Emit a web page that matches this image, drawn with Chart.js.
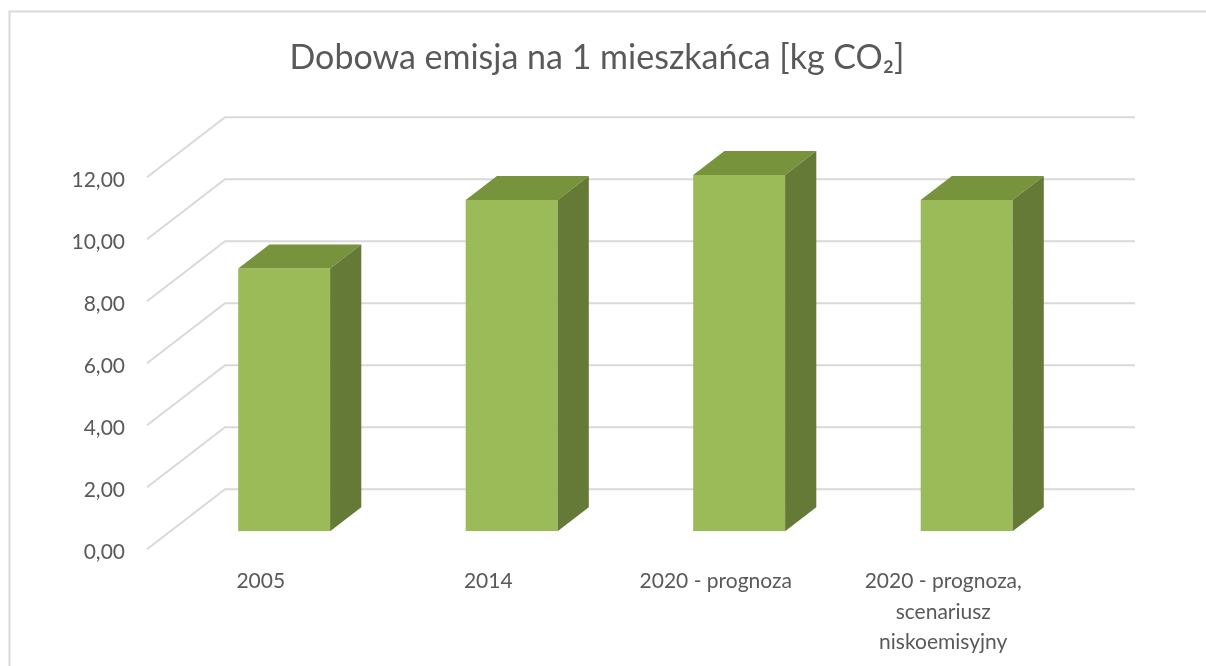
<!DOCTYPE html>
<html>
<head>
<meta charset="utf-8">
<script src="https://cdn.jsdelivr.net/npm/chart.js@4.4.0/dist/chart.umd.min.js"></script>
<style>
  html, body { margin: 0; padding: 0; background: #ffffff; }
  #wrap { width: 1206px; height: 666px; position: relative; }
</style>
</head>
<body>
<div id="wrap"><canvas id="c" width="1206" height="666"></canvas></div>
<script>
// ---- data ----
const chartTitle = 'Dobowa emisja na 1 mieszkańca [kg CO₂]';
const categories = [
  ['2005'],
  ['2014'],
  ['2020 - prognoza'],
  ['2020 - prognoza,', 'scenariusz', 'niskoemisyjny']
];
const emissionValues = [8.48, 10.69, 11.49, 10.69];
const yTickMin = 0;
const yTickMax = 12;
const yTickStep = 2;

// ---- styling / 3D geometry ----
const FLOOR_DX = 78, FLOOR_DY = 60;   // full depth of the 3D floor (px)
const BAR_FRONT = 0.3, BAR_DEPTH = 0.4; // bar position inside the depth
const GRID_COLOR = '#d9d9d9';
const TEXT_COLOR = '#595959';
const FRONT_COLOR = '#9bbb59';
const TOP_COLOR = '#77933c';
const SIDE_COLOR = '#657a37';

const threeD = {
  id: 'threeD',
  beforeDraw(chart) {
    const ctx = chart.ctx;
    ctx.save();
    ctx.strokeStyle = GRID_COLOR;
    ctx.lineWidth = 2;
    ctx.strokeRect(9.5, 11.5, 1400, 800);
    ctx.restore();
  },
  beforeDatasetsDraw(chart) {
    const ctx = chart.ctx;
    const ys = chart.scales.y;
    const { left, right } = chart.chartArea;
    const fdx = FLOOR_DX * BAR_FRONT, fdy = FLOOR_DY * BAR_FRONT;
    const bdx = FLOOR_DX * (1 - BAR_FRONT), bdy = FLOOR_DY * (1 - BAR_FRONT);
    ctx.save();
    ctx.strokeStyle = GRID_COLOR;
    ctx.lineWidth = 2;
    ctx.lineJoin = 'miter';
    ys.ticks.forEach(t => {
      const yb = ys.getPixelForValue(t.value);
      ctx.beginPath();
      ctx.moveTo(left - fdx, yb + fdy);
      ctx.lineTo(left + bdx, yb - bdy);
      ctx.lineTo(right + bdx, yb - bdy);
      ctx.stroke();
    });
    ctx.restore();
  },
  afterDatasetsDraw(chart) {
    const ctx = chart.ctx;
    const meta = chart.getDatasetMeta(0);
    const dx = FLOOR_DX * BAR_DEPTH, dy = FLOOR_DY * BAR_DEPTH;
    ctx.save();
    meta.data.forEach(bar => {
      const p = bar.getProps(['x', 'y', 'base', 'width'], true);
      const x0 = p.x - p.width / 2, x1 = p.x + p.width / 2;
      const yt = p.y, yb = p.base;
      // top face
      ctx.fillStyle = TOP_COLOR;
      ctx.beginPath();
      ctx.moveTo(x0, yt);
      ctx.lineTo(x1, yt);
      ctx.lineTo(x1 + dx, yt - dy);
      ctx.lineTo(x0 + dx, yt - dy);
      ctx.closePath();
      ctx.fill();
      // side face
      ctx.fillStyle = SIDE_COLOR;
      ctx.beginPath();
      ctx.moveTo(x1, yt);
      ctx.lineTo(x1 + dx, yt - dy);
      ctx.lineTo(x1 + dx, yb - dy);
      ctx.lineTo(x1, yb);
      ctx.closePath();
      ctx.fill();
    });
    ctx.restore();
  }
};

new Chart(document.getElementById('c'), {
  type: 'bar',
  data: {
    labels: categories,
    datasets: [{
      data: emissionValues,
      backgroundColor: FRONT_COLOR,
      borderWidth: 0,
      barPercentage: 0.404,
      categoryPercentage: 1.0,
      yAxisID: 'y'
    }]
  },
  options: {
    responsive: false,
    animation: false,
    devicePixelRatio: 1,
    layout: { padding: { left: 50, right: 62, top: 0, bottom: 0 } },
    plugins: {
      legend: { display: false },
      tooltip: { enabled: false },
      title: {
        display: true,
        text: chartTitle,
        color: TEXT_COLOR,
        font: { family: 'Lato', size: 34, weight: 'normal', lineHeight: 1.2 },
        padding: { top: 38, bottom: 80.5 }
      }
    },
    scales: {
      x: {
        offset: true,
        grid: { display: false, drawTicks: false },
        border: { display: false },
        ticks: {
          color: TEXT_COLOR,
          font: { family: 'Lato', size: 21, lineHeight: 1.45 },
          padding: 35,
          labelOffset: -23.4,
          maxRotation: 0,
          autoSkip: false
        },
        afterFit(scale) { scale.height = 134.7; }
      },
      y: {
        position: 'left',
        min: yTickMin,
        max: yTickMax,
        grid: { display: false, drawTicks: false },
        border: { display: false },
        ticks: {
          stepSize: yTickStep,
          color: TEXT_COLOR,
          font: { family: 'Lato', size: 21 },
          padding: 45.4,
          labelOffset: 21,
          callback: v => Number(v).toFixed(2).replace('.', ',')
        },
        afterFit(scale) { scale.width = 120.4; }
      },
      yRightSpace: {
        position: 'right',
        display: true,
        grid: { display: false, drawTicks: false },
        border: { display: false },
        ticks: { display: false },
        afterFit(scale) { scale.width = 63.6; }
      }
    }
  },
  plugins: [threeD]
});
</script>
</body>
</html>
